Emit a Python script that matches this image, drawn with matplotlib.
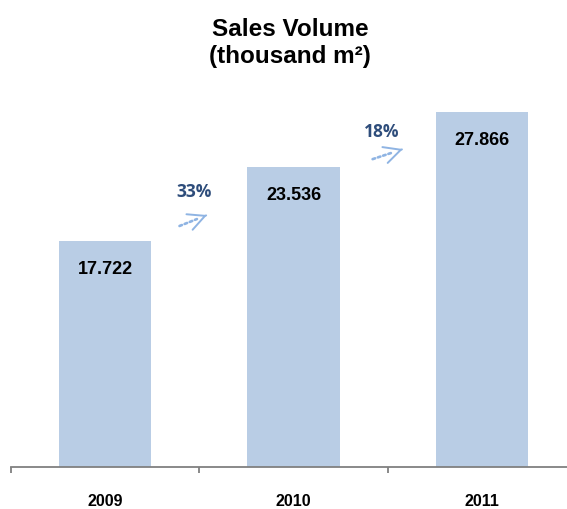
import matplotlib
matplotlib.use("Agg")
import matplotlib.pyplot as plt
from matplotlib.patches import FancyArrowPatch

years = ["2009", "2010", "2011"]
volume = [17.722, 23.536, 27.866]
growth_labels = ["33%", "18%"]

bar_color = "#b9cde5"
arrow_color = "#8fb4e3"
growth_color = "#2e4d7b"

plt.rcParams["font.family"] = ["Liberation Sans", "DejaVu Sans"]

fig = plt.figure(figsize=(5.67, 5.09), dpi=100)
ax = fig.add_axes([11 / 567, 42 / 509, 565 / 567, 382.5 / 509])
ax.set_xlim(-0.5, 2.5)
ax.set_ylim(0, 30)

x = list(range(len(years)))
ax.bar(x, volume, width=0.49, color=bar_color, zorder=2)

for xi, v in zip(x, volume):
    ax.annotate(f"{v:.3f}", (xi, v), xytext=(0, -20.5), textcoords="offset points",
                ha="center", va="center", fontsize=13, fontweight="bold", color="black")


def growth_arrow(tail, tip):
    """Dotted shaft with a solid open arrowhead."""
    dx, dy = tip[0] - tail[0], tip[1] - tail[1]
    shaft_end = (tail[0] + 0.75 * dx, tail[1] + 0.75 * dy)
    head_start = (tail[0] + 0.97 * dx, tail[1] + 0.97 * dy)
    ax.add_patch(FancyArrowPatch(tail, shaft_end, arrowstyle="-",
                                 linestyle=(0, (1, 1.1)), linewidth=1.9,
                                 color=arrow_color, mutation_scale=1, zorder=3))
    ax.add_patch(FancyArrowPatch(head_start, tip,
                                 arrowstyle="->,head_length=12,head_width=6",
                                 linewidth=1.4, color=arrow_color,
                                 mutation_scale=1, zorder=3))


# growth arrows between consecutive bars, placed just above the left bar
for i, lab in enumerate(growth_labels):
    base = volume[i]
    if i == 0:
        tail, tip, lab_xy = (0.381, base + 1.10), (0.541, base + 2.04), (0.472, base + 3.85)
    else:
        tail, tip, lab_xy = (1.406, base + 0.54), (1.581, base + 1.40), (1.470, base + 2.75)
    ax.text(lab_xy[0], lab_xy[1], lab, ha="center", va="center", fontsize=12.5,
            fontweight="bold", color=growth_color, family=["Open Sans", "DejaVu Sans"])
    growth_arrow(tail, tip)

for s in ["top", "right", "left"]:
    ax.spines[s].set_visible(False)
ax.spines["bottom"].set_color("#808080")
ax.spines["bottom"].set_linewidth(1.3)
ax.set_yticks([])
ax.set_xticks([-0.5, 0.5, 1.5, 2.5])
ax.set_xticklabels([])
ax.tick_params(axis="x", direction="out", length=4.5, width=1.3, color="#808080")

for xi, yr in zip(x, years):
    ax.annotate(yr, (xi, 0), xytext=(0, -25), textcoords="offset points",
                ha="center", va="center", fontsize=11.5, fontweight="bold")

fig.text(290 / 567, 1 - 29 / 509, "Sales Volume", ha="center", va="center",
         fontsize=17.5, fontweight="bold")
fig.text(290 / 567, 1 - 57 / 509, "(thousand m²)", ha="center", va="center",
         fontsize=17.5, fontweight="bold")

fig.savefig("out.png", dpi=100)
